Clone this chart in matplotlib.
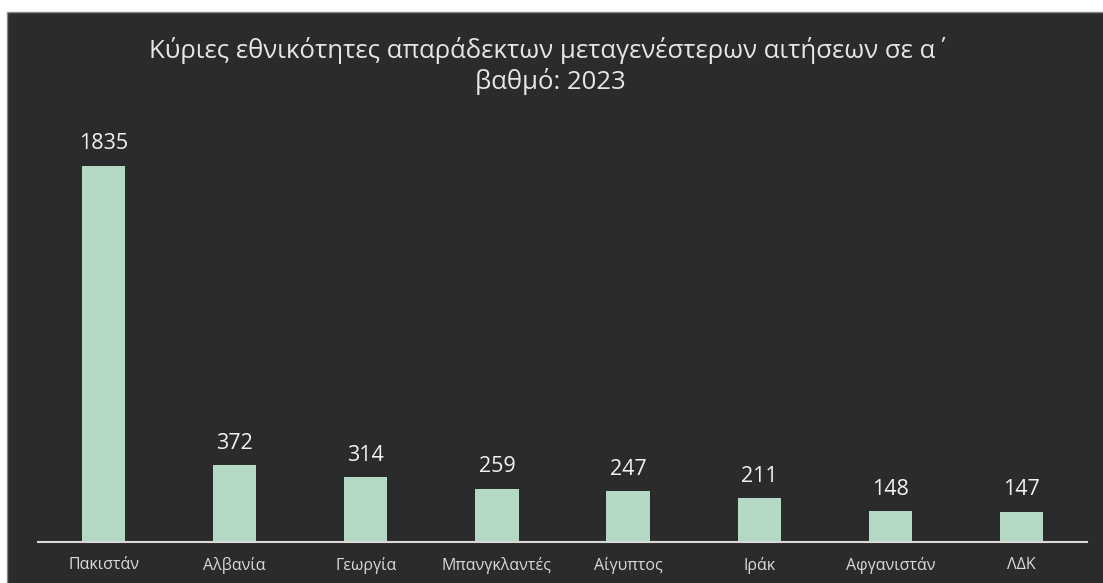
import matplotlib
matplotlib.use("Agg")
import matplotlib.pyplot as plt
from matplotlib.patches import Rectangle

categories = ["Πακιστάν", "Αλβανία", "Γεωργία", "Μπανγκλαντές", "Αίγυπτος", "Ιράκ", "Αφγανιστάν", "ΛΔΚ"]
values = [1835, 372, 314, 259, 247, 211, 148, 147]
title = "Κύριες εθνικότητες απαράδεκτων μεταγενέστερων αιτήσεων σε α΄\nβαθμό: 2023"

W, H = 1103, 583
plt.rcParams['font.family'] = ['Open Sans', 'DejaVu Sans']
fig = plt.figure(figsize=(W/100, H/100), dpi=100, facecolor="white")

bg = "#2b2b2b"
bgax = fig.add_axes([0, 0, 1, 1], zorder=-5)
bgax.set_axis_off()
bgax.set_xlim(0, 1); bgax.set_ylim(0, 1)
bgax.add_patch(Rectangle((7/W, -0.01), 1, (H - 12)/H + 0.01, transform=bgax.transAxes,
                         facecolor=bg, edgecolor="#8a8a8a", linewidth=1))

ax = fig.add_axes([38/W, 41.3/H, (1087-38)/W, 410/H], zorder=1)
ax.set_facecolor("none")
x = range(len(categories))
ax.bar(x, values, width=0.33, color="#b3d8c3", zorder=2)
ax.set_xlim(-0.5, len(categories) - 0.5)
ax.set_ylim(0, 2000)
for xi, v in zip(x, values):
    ax.annotate(str(v), (xi, v), xytext=(0, 8), textcoords="offset points",
                ha="center", va="bottom", color="#f2f2f2", fontsize=15.5)
ax.set_xticks(list(x))
ax.set_xticklabels(categories, color="#d9d9d9", fontsize=11.5)
ax.tick_params(axis="x", length=0, pad=11)
ax.set_yticks([])
for s in ["top", "right", "left"]:
    ax.spines[s].set_visible(False)
ax.spines["bottom"].set_color("#d9d9d9")
ax.spines["bottom"].set_linewidth(1.5)

fig.text(550/W, 1 - 66/H, title, ha="center", va="center", color="#e6e6e6",
         fontsize=18.5, linespacing=1.2)

fig.savefig("out.png", dpi=100, facecolor="white")
